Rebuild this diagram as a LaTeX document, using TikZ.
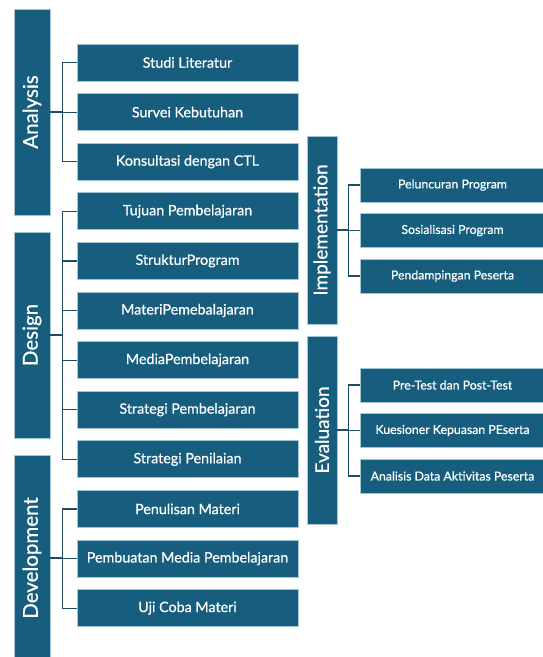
\documentclass[tikz,border=0pt]{standalone}
\usepackage{fontspec}
\setmainfont{Lato}[BoldFont=Lato, BoldFeatures={FakeBold=0.6}]
\usepackage{graphicx}
\usetikzlibrary{positioning}
\definecolor{boxteal}{HTML}{175E7E}
\definecolor{boxrim}{HTML}{A3C6D6}
\definecolor{linkteal}{HTML}{1C4D63}

\begin{document}
\begin{tikzpicture}[
    x=1pt, y=-1pt,
    node distance=11.9pt,
    phase/.style={fill=boxteal, draw=boxrim, line width=0.7pt, text=white, inner sep=0pt,
        minimum width=36pt, minimum height=206pt, font=\fontsize{20.5}{22}\selectfont\bfseries},
    subphase/.style={phase, minimum width=30pt, minimum height=188pt, font=\fontsize{19}{21}\selectfont\bfseries},
    item/.style={fill=boxteal, draw=boxrim, line width=0.7pt, text=white, inner sep=0pt,
        minimum width=221pt, minimum height=37pt, font=\fontsize{14.3}{16}\selectfont\bfseries},
    subitem/.style={item, minimum width=185pt, minimum height=34pt, font=\fontsize{12.3}{14}\selectfont\bfseries},
    link/.style={draw=linkteal, line width=1.2pt}
]
\useasboundingbox (0,0) rectangle (542,657);

% phases on the left
\node[phase] (ana) at (32,112) {\rotatebox{90}{Analysis}};
\node[phase] (des) at (32,335) {\rotatebox{90}{Design}};
\node[phase] (dev) at (32,558) {\rotatebox{90}{Development}};

% activities of the left phases
\node[item] (a1) at (187.5,62.5) {Studi Literatur};
\node[item, below=of a1] (a2) {Survei Kebutuhan};
\node[item, below=of a2] (a3) {Konsultasi dengan CTL};
\node[item, below=of a3] (d1) {Tujuan Pembelajaran};
\node[item, below=of d1] (d2) {StrukturProgram};
\node[item, below=of d2] (d3) {MateriPemebalajaran};
\node[item, below=of d3] (d4) {MediaPembelajaran};
\node[item, below=of d4] (d5) {Strategi Pembelajaran};
\node[item, below=of d5] (d6) {Strategi Penilaian};
\node[item, below=of d6] (v1) {Penulisan Materi};
\node[item, below=of v1] (v2) {Pembuatan Media Pembelajaran};
\node[item, below=of v2] (v3) {Uji Coba Materi};

% phases on the right
\node[subphase] (imp) at (322,230) {\rotatebox{90}{Implementation}};
\node[subphase] (eva) at (322,430) {\rotatebox{90}{Evaluation}};

\node[subitem] (i1) at (452.5,185) {Peluncuran Program};
\node[subitem, below=10.8pt of i1] (i2) {Sosialisasi Program};
\node[subitem, below=10.8pt of i2] (i3) {Pendampingan Peserta};
\node[subitem] (e1) at (452.5,385) {Pre-Test dan Post-Test};
\node[subitem, below=10.8pt of e1] (e2) {Kuesioner Kepuasan PEserta};
\node[subitem, below=10.8pt of e2] (e3) {Analisis Data Aktivitas Peserta};

% brackets
\draw[link] (ana.east) -- ++(13,0);
\draw[link] (a1.west) -- ++(-14,0) |- (a3.west);
\draw[link] (a2.west) -- ++(-14,0);

\draw[link] (des.east) -- ++(13,0);
\draw[link] (d1.west) -- ++(-14,0) |- (d6.west);
\draw[link] (d2.west) -- ++(-14,0);
\draw[link] (d3.west) -- ++(-14,0);
\draw[link] (d4.west) -- ++(-14,0);
\draw[link] (d5.west) -- ++(-14,0);

\draw[link] (dev.east) -- ++(13,0);
\draw[link] (v1.west) -- ++(-14,0) |- (v3.west);
\draw[link] (v2.west) -- ++(-14,0);

\draw[link] (imp.east) -- ++(12,0);
\draw[link] (i1.west) -- ++(-11,0) |- (i3.west);
\draw[link] (i2.west) -- ++(-11,0);

\draw[link] (eva.east) -- ++(12,0);
\draw[link] (e1.west) -- ++(-11,0) |- (e3.west);
\draw[link] (e2.west) -- ++(-11,0);
\end{tikzpicture}
\end{document}
